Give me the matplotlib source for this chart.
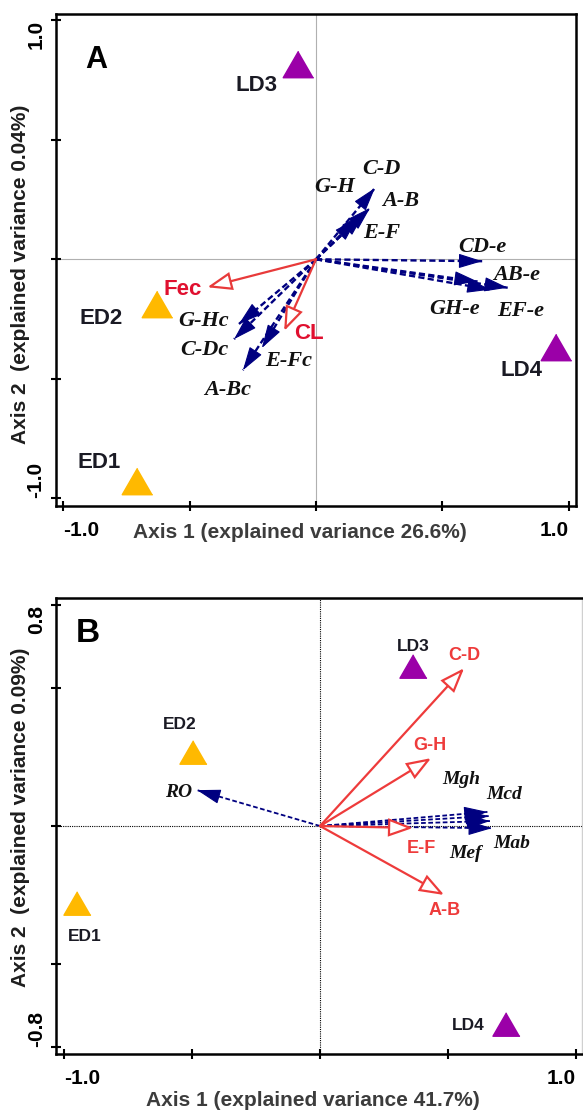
import numpy as np
import matplotlib.pyplot as plt
from matplotlib.patches import FancyArrowPatch

# --- Panel A: sites (triangles) ---
A_SITES = ["LD3", "ED2", "ED1", "LD4"]
A_SITE_X = [-0.071, -0.629, -0.708, 0.949]
A_SITE_Y = [0.817, -0.187, -0.929, -0.368]
A_SITE_GROUP = ["late", "early", "early", "late"]

# --- Panel A: environmental vectors (red, open heads) ---
A_ENV = ["Fec", "CL"]
A_ENV_X = [-0.430, -0.126]
A_ENV_Y = [-0.117, -0.300]

# --- Panel A: response vectors (navy, dashed) ---
A_RESP = ["C-D", "A-B", "G-H", "E-F",
          "G-Hc", "C-Dc", "E-Fc", "A-Bc",
          "CD-e", "GH-e", "EF-e", "AB-e"]
A_RESP_X = [0.233, 0.214, 0.190, 0.162,
            -0.305, -0.324, -0.214, -0.289,
            0.657, 0.639, 0.690, 0.758]
A_RESP_Y = [0.298, 0.215, 0.190, 0.170,
            -0.271, -0.334, -0.371, -0.464,
            -0.008, -0.093, -0.127, -0.119]

# --- Panel B ---
B_SITES = ["LD3", "ED2", "ED1", "LD4"]
B_SITE_X = [0.364, -0.497, -0.951, 0.728]
B_SITE_Y = [0.580, 0.268, -0.279, -0.717]
B_SITE_GROUP = ["late", "early", "early", "late"]

B_ENV = ["C-D", "G-H", "E-F", "A-B"]
B_ENV_X = [0.564, 0.435, 0.364, 0.486]
B_ENV_Y = [0.572, 0.246, -0.007, -0.250]

B_RESP = ["RO", "Mgh", "Mcd", "Mef", "Mab"]
B_RESP_X = [-0.481, 0.655, 0.660, 0.665, 0.672]
B_RESP_Y = [0.130, 0.051, 0.036, 0.018, -0.008]

# label anchor points (layout only, data coords)
A_SITE_LBL = [(-0.237, 0.729), (-0.850, -0.247), (-0.858, -0.848), (0.811, -0.465)]
A_ENV_LBL = [(-0.526, -0.128), (-0.028, -0.309)]
A_RESP_LBL = [(0.257, 0.378), (0.336, 0.244), (0.075, 0.302), (0.261, 0.110),
              (-0.443, -0.259), (-0.443, -0.381), (-0.110, -0.427), (-0.348, -0.548),
              (0.657, 0.051), (0.546, -0.208), (0.811, -0.216), (0.795, -0.066)]
B_SITE_LBL = [(0.364, 0.649), (-0.548, 0.366), (-0.920, -0.399), (0.579, -0.721)]
B_ENV_LBL = [(0.564, 0.616), (0.431, 0.293), (0.397, -0.082), (0.486, -0.305)]
B_RESP_LBL = [(-0.552, 0.120), (0.552, 0.167), (0.720, 0.114), (0.571, -0.101), (0.748, -0.063)]

GROUP_COLOR = {"early": "#FFB900", "late": "#9B00A8"}
NAVY = "#000080"
SANS = "Liberation Sans"
SERIF = "Liberation Serif"

# equilateral triangle centred on its bounding box
TRI = [(0, 0.866), (-1, -0.866), (1, -0.866)]


def red_arrow(ax, x, y, color):
    # solid shaft, open (white-filled) head
    p = FancyArrowPatch((0, 0), (x, y),
                        arrowstyle="-|>,head_length=0.65,head_width=0.24",
                        mutation_scale=23, shrinkA=0, shrinkB=0, lw=1.6,
                        ec=color, fc="white", zorder=3, joinstyle="miter")
    ax.add_patch(p)


def dashed_arrow(ax, x, y, lw):
    # dashed shaft plus a solid filled head laid over its tip
    ax.plot([0, x], [0, y], color=NAVY, lw=lw, ls=(0, (2.6, 1.4)),
            solid_capstyle="butt", dash_capstyle="butt", zorder=3)
    p0, p1 = ax.transData.transform([(0, 0), (x, y)])
    u = (p1 - p0) / np.hypot(*(p1 - p0))
    ax.annotate("", xy=(x, y), xytext=(-u[0] * 14, -u[1] * 14),
                textcoords="offset points",
                arrowprops=dict(arrowstyle="-|>,head_length=0.65,head_width=0.2",
                                mutation_scale=23, shrinkA=0, shrinkB=0,
                                lw=0.8, color=NAVY),
                zorder=3)


def frame(ax, xlim, ylim, yt, ytl, zero_style, xlabel, ylabel, xl_pos, yl_pos):
    ax.set_xlim(*xlim)
    ax.set_ylim(*ylim)
    ax.set_xticks([-1, -0.5, 0, 0.5, 1])
    ax.set_xticklabels(["-1.0", "", "", "", "1.0"])
    ax.set_yticks(yt)
    ax.set_yticklabels(ytl, rotation=90)
    ax.tick_params(direction="inout", length=7, width=1.5, labelsize=15)
    ax.tick_params(axis="x", pad=7)
    ax.tick_params(axis="y", pad=4)
    for lab in ax.get_xticklabels() + ax.get_yticklabels():
        lab.set_fontweight("bold")
        lab.set_fontfamily(SANS)
    xt = ax.get_xticklabels()
    xt[0].set_ha("left")
    xt[-1].set_ha("right")
    ylabs = ax.get_yticklabels()
    ylabs[0].set_va("bottom")
    ylabs[-1].set_va("top")
    for s in ax.spines.values():
        s.set_linewidth(1.8)
        s.set_color("black")
    ax.axhline(0, zorder=1, **zero_style)
    ax.axvline(0, zorder=1, **zero_style)
    ax.set_xlabel(xlabel, fontsize=15, fontweight="bold", family=SANS, color="#3c3c3c")
    ax.set_ylabel(ylabel, fontsize=15, fontweight="bold", family=SANS, color="#1e1e1e")
    ax.xaxis.set_label_coords(*xl_pos)
    ax.yaxis.set_label_coords(*yl_pos)


fig = plt.figure(figsize=(5.83, 11.10), dpi=100)

# ---------------- Panel A ----------------
ax = fig.add_axes([0.09605, 0.54414, 0.89194, 0.44324])
frame(ax, (-1.028, 1.028), (-1.032, 1.026),
      [-1, -0.5, 0, 0.5, 1], ["-1.0", "", "", "", "1.0"],
      dict(color="#b0b0b0", lw=0.8),
      "Axis 1 (explained variance 26.6%)", "Axis 2  (explained variance 0.04%)",
      (0.469, -0.035), (-0.05, 0.47))

for name, x, y, (lx, ly) in zip(A_RESP, A_RESP_X, A_RESP_Y, A_RESP_LBL):
    dashed_arrow(ax, x, y, lw=1.7)
    ax.text(lx, ly, name, family=SERIF, style="italic", fontweight="bold",
            fontsize=16, ha="center", va="center", color="#111111")
for name, x, y, (lx, ly) in zip(A_ENV, A_ENV_X, A_ENV_Y, A_ENV_LBL):
    red_arrow(ax, x, y, "#E83A3A")
    ax.text(lx, ly, name, family=SANS, fontweight="bold", fontsize=16,
            ha="center", va="center", color="#E0102F")
for name, x, y, g, (lx, ly) in zip(A_SITES, A_SITE_X, A_SITE_Y, A_SITE_GROUP, A_SITE_LBL):
    ax.plot(x, y, marker=TRI, ms=22, color=GROUP_COLOR[g], ls="none", zorder=4)
    ax.text(lx, ly, name, family=SANS, fontweight="bold", fontsize=16,
            ha="center", va="center", color="#1a1a24")
ax.text(0.056, 0.937, "A", transform=ax.transAxes, family=SANS,
        fontweight="bold", fontsize=22, ha="left", va="top")

# ---------------- Panel B ----------------
bx = fig.add_axes([0.0969, 0.05045, 0.9014, 0.41081])
frame(bx, (-1.031, 1.025), (-0.826, 0.826),
      [-0.8, -0.5, 0, 0.5, 0.8], ["-0.8", "", "", "", "0.8"],
      dict(color="black", lw=0.8, ls=(0, (1, 1))),
      "Axis 1 (explained variance 41.7%)", "Axis 2  (explained variance 0.09%)",
      (0.488, -0.082), (-0.05, 0.52))
bx.spines["right"].set_color("#d0d0d0")
bx.spines["right"].set_linewidth(1)

for name, x, y, (lx, ly) in zip(B_RESP, B_RESP_X, B_RESP_Y, B_RESP_LBL):
    dashed_arrow(bx, x, y, lw=1.3)
    bx.text(lx, ly, name, family=SERIF, style="italic", fontweight="bold",
            fontsize=14, ha="center", va="center", color="#111111")
for name, x, y, (lx, ly) in zip(B_ENV, B_ENV_X, B_ENV_Y, B_ENV_LBL):
    red_arrow(bx, x, y, "#EE3B3B")
    bx.text(lx, ly, name, family=SANS, fontweight="bold", fontsize=13,
            ha="center", va="center", color="#EE3B3B")
for name, x, y, g, (lx, ly) in zip(B_SITES, B_SITE_X, B_SITE_Y, B_SITE_GROUP, B_SITE_LBL):
    bx.plot(x, y, marker=TRI, ms=19.5, color=GROUP_COLOR[g], ls="none", zorder=4)
    bx.text(lx, ly, name, family=SANS, fontweight="bold", fontsize=12.5,
            ha="center", va="center", color="#1a1a24")
bx.text(0.037, 0.956, "B", transform=bx.transAxes, family=SANS,
        fontweight="bold", fontsize=24, ha="left", va="top")

fig.savefig("out.png", dpi=100)
